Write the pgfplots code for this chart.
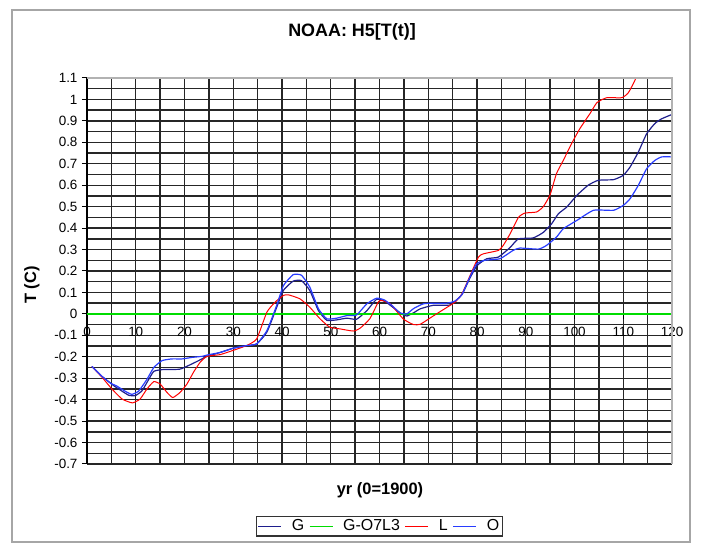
\documentclass[border=0pt]{standalone}
\usepackage{fontspec}
\setmainfont{Liberation Sans}
\usepackage{pgfplots}
\pgfplotsset{compat=1.18}

\definecolor{gcol}{RGB}{30,30,140}
\definecolor{ocol}{RGB}{40,60,255}
\definecolor{lcol}{RGB}{255,0,0}
\definecolor{gocol}{RGB}{0,220,0}

\begin{document}
\begin{tikzpicture}[x=1bp,y=1bp]
\useasboundingbox (-87,-80) rectangle (615,464);
% chart area frame
\draw[gray!70, line width=1.2bp] (-75,-78) rectangle (603,454);
\begin{axis}[
  at={(0,0)}, anchor=south west,
  scale only axis, width=585bp, height=386bp,
  xmin=0, xmax=120, ymin=-0.7, ymax=1.1,
  axis x line*=middle, axis y line*=left,
  hide obscured x ticks=false, hide obscured y ticks=false,
  xtick={0,10,...,120},
  minor xtick={5,15,...,115},
  ytick={-0.7,-0.6,-0.5,-0.4,-0.3,-0.2,-0.1,0,0.1,0.2,0.3,0.4,0.5,0.6,0.7,0.8,0.9,1,1.1},
  minor ytick={-0.65,-0.55,-0.45,-0.35,-0.25,-0.15,-0.05,0.05,0.15,0.25,0.35,0.45,0.55,0.65,0.75,0.85,0.95,1.05},
  grid=both,
  major grid style={black!85, line width=1.4bp},
  minor grid style={black!85, line width=1.4bp},
  tick align=outside,
  major tick length=5bp, minor tick length=0pt,
  tick style={black, line width=1bp},
  axis line style={black, line width=1.5bp},
  ticklabel style={font=\fontsize{13.5}{15}\selectfont},
  xticklabel style={yshift=-5bp},
  yticklabel style={xshift=-1bp},
  /pgf/number format/assume math mode=true,
  legend style={at={(0.5,-0.134)}, anchor=north, legend columns=4,
    draw=black!80, line width=1.2bp, inner sep=1.5bp,
    font=\fontsize{16}{18}\selectfont,
    /tikz/every even column/.append style={column sep=3bp},
    /tikz/every odd column/.append style={column sep=8bp}},
  legend image code/.code={\draw[#1, line width=1bp] (0bp,0bp) -- (23bp,0bp);},
]
\addplot[gcol, line width=1.2bp, smooth, tension=0.3] coordinates {
(1,-0.245) (3,-0.29) (5.5,-0.335) (8.6,-0.38) (10,-0.38) (11.3,-0.358) (12.7,-0.304)
(13.7,-0.268) (15.4,-0.26) (19,-0.258) (20.9,-0.24) (22.9,-0.218) (24.6,-0.198)
(27.3,-0.18) (30,-0.16) (32.7,-0.148) (34.8,-0.14) (36.9,-0.085) (38.9,0.03)
(40.3,0.11) (42.3,0.153) (44,0.155) (45.7,0.109) (47.5,0.014) (49.2,-0.03)
(51.2,-0.028) (53.3,-0.02) (55.3,-0.025) (57.4,0.015) (59.4,0.068) (61,0.06)
(62.5,0.035) (64.5,0.0) (65.6,-0.01) (67,0.005) (68.3,0.023) (71,0.04) (74.5,0.042)
(76.9,0.09) (78.5,0.165) (80,0.225) (82,0.257) (84.4,0.265) (86.8,0.31) (88.5,0.35)
(91.5,0.354) (93.6,0.38) (95.3,0.42) (96.7,0.467) (98.4,0.498) (100.5,0.553)
(102.8,0.6) (104.9,0.623) (108,0.626) (110,0.646) (111.4,0.685) (113.1,0.755)
(114.8,0.84) (116.5,0.888) (117.9,0.91) (120,0.93)
};
\addlegendentry{G}
\addplot[gocol, line width=1.8bp] coordinates {(0,0) (120,0)};
\addlegendentry{G-O7L3}
\addplot[lcol, line width=1bp, smooth, tension=0.3] coordinates {
(1,-0.245) (3.1,-0.296) (5.1,-0.35) (7.2,-0.397) (9.3,-0.415) (10.9,-0.397)
(12.3,-0.35) (13.7,-0.316) (15,-0.327) (16.4,-0.366) (17.6,-0.39) (19.1,-0.366)
(20.5,-0.327) (21.9,-0.27) (23.2,-0.226) (24.6,-0.198) (27.3,-0.19) (30,-0.17)
(32.7,-0.148) (34.8,-0.117) (36.9,0.008) (38.6,0.055) (40.3,0.086) (41.3,0.089)
(43.7,0.07) (45.7,0.031) (47.8,-0.023) (49.8,-0.062) (51.9,-0.07) (54.6,-0.08)
(56,-0.067) (58,-0.023) (59.8,0.057) (60.5,0.062) (62.2,0.047) (64.9,-0.024)
(67,-0.05) (68.4,-0.048) (71,-0.01) (73.8,0.03) (75.5,0.055) (76.9,0.093)
(78.6,0.18) (80.3,0.265) (81.3,0.28) (84.4,0.296) (85.4,0.32) (86.8,0.374)
(88.5,0.45) (89.8,0.47) (92.2,0.475) (93.6,0.5) (95,0.556) (96.3,0.654)
(97.7,0.716) (99.4,0.794) (101.1,0.864) (103.2,0.935) (104.6,0.985) (106.6,1.008)
(109.7,1.008) (111,1.03) (112.1,1.075) (112.7,1.105)
};
\addlegendentry{L}
\addplot[ocol, line width=1.2bp, smooth, tension=0.3] coordinates {
(1,-0.245) (3,-0.29) (5,-0.325) (6,-0.335) (8,-0.363) (9.2,-0.375) (10.6,-0.36)
(12.3,-0.305) (13.7,-0.25) (15.4,-0.218) (17.4,-0.21) (19.5,-0.21) (21.5,-0.203)
(23.6,-0.198) (25,-0.19) (27.3,-0.18) (30,-0.16) (32.7,-0.148) (34.8,-0.14)
(36.9,-0.078) (38.9,0.039) (40.3,0.132) (42.3,0.183) (44,0.18) (45.7,0.125)
(47.5,0.023) (49.2,-0.023) (51.2,-0.02) (53.3,-0.008) (55.3,-0.005) (57.4,0.047)
(59.4,0.073) (61,0.065) (62.5,0.04) (64.2,0.005) (65.6,0) (67,0.025) (69,0.047)
(71,0.05) (73.8,0.05) (75.5,0.06) (76.9,0.09) (78.5,0.17) (79.9,0.233) (81.6,0.25)
(84.7,0.257) (87.4,0.296) (88.8,0.307) (92.6,0.302) (94.3,0.32) (96.3,0.358)
(97.7,0.397) (100.5,0.436) (103.9,0.483) (108,0.483) (110,0.506) (111.4,0.537)
(113.1,0.6) (114.8,0.677) (116.5,0.716) (117.9,0.732) (120,0.732)
};
\addlegendentry{O}
\end{axis}
% plot area border (top and right)
\draw[gray!60, line width=1.2bp] (0,386) -- (585,386) -- (585,0);
\node[font=\bfseries\fontsize{18}{20}\selectfont] at (265,432) {NOAA: H5[T(t)]};
\node[font=\bfseries\fontsize{16.5}{18}\selectfont] at (293,-26) {yr (0=1900)};
\node[font=\bfseries\fontsize{16.5}{18}\selectfont, rotate=90] at (-55,179) {T (C)};
\end{tikzpicture}
\end{document}
